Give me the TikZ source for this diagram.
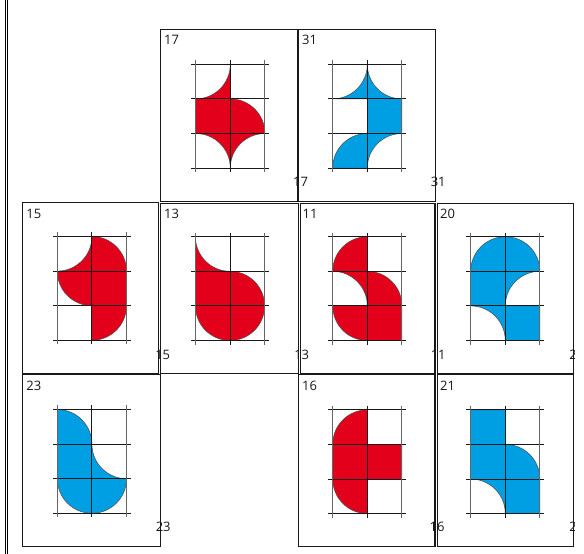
\documentclass[tikz,border=0pt]{standalone}
\usepackage{fontspec}
\setmainfont{Open Sans}
\definecolor{myred}{RGB}{226,0,26}
\definecolor{myblue}{RGB}{0,159,227}
\tikzset{
  boxframe/.style={draw=black!90, line width=1.25pt},
  lbl/.style={inner sep=0pt, anchor=base west, font=\fontsize{13}{15}\selectfont, text=black!90},
  redshape/.style={fill=myred, draw=black!70, line width=0.5pt},
  blueshape/.style={fill=myblue, draw=black!70, line width=0.5pt},
  gridh/.style={draw=black!90, line width=0.9pt},
  gridv/.style={draw=black!60, line width=0.9pt},
  myunits/.style={x=34.6pt, y=-34.6pt}
}
\def\R{34.6pt}
\newcommand\mygridlines{%
  \foreach \j in {0,...,3} {\draw[gridh] (-0.13,\j) -- (2.13,\j);}
  \draw[gridv] (0,-0.12) -- (0,3.12);
  \draw[gridh] (1,-0.12) -- (1,3.12);
  \draw[gridv] (2,-0.12) -- (2,3.12);
}
\begin{document}
\begin{tikzpicture}[x=1pt, y=-1pt]
\useasboundingbox (0,0) rectangle (584,554);
\fill[white] (0,0) rectangle (584,554);
\begin{scope}
\clip (0,0) rectangle (574.6,554);

% left double rule
\draw[line width=0.9pt] (5,0) -- (5,554);
\draw[line width=0.9pt] (7.4,0) -- (7.4,554);

% ---------- shapes ----------
% 17
\begin{scope}[shift={(195.7,64.3)}, myunits]
\path[redshape] (1,0) -- (1,1) arc[start angle=90,end angle=0,radius=\R]
  arc[start angle=90,end angle=180,radius=\R]
  arc[start angle=0,end angle=90,radius=\R] -- (0,1)
  arc[start angle=-90,end angle=0,radius=\R] -- cycle;
\mygridlines
\end{scope}
% 31
\begin{scope}[shift={(332.7,64.3)}, myunits]
\path[blueshape] (0,1) arc[start angle=-90,end angle=0,radius=\R]
  arc[start angle=180,end angle=270,radius=\R] -- (2,2)
  arc[start angle=90,end angle=180,radius=\R] -- (0,3)
  arc[start angle=180,end angle=90,radius=\R] -- (1,1) -- cycle;
\mygridlines
\end{scope}
% 15
\begin{scope}[shift={(57.3,236.5)}, myunits]
\path[redshape] (1,0) arc[start angle=90,end angle=0,radius=\R] -- (2,2)
  arc[start angle=0,end angle=-90,radius=\R] -- (1,2)
  arc[start angle=270,end angle=180,radius=\R]
  arc[start angle=-90,end angle=0,radius=\R] -- cycle;
\mygridlines
\end{scope}
% 13
\begin{scope}[shift={(195.4,236.7)}, myunits]
\path[redshape] (0,0) arc[start angle=180,end angle=270,radius=\R]
  arc[start angle=90,end angle=-180,radius=\R] -- cycle;
\mygridlines
\end{scope}
% 11
\begin{scope}[shift={(332.7,236.7)}, myunits]
\path[redshape] (0,1) arc[start angle=180,end angle=90,radius=\R] -- (1,1)
  arc[start angle=90,end angle=0,radius=\R] -- (2,3) -- (1,3)
  arc[start angle=270,end angle=180,radius=\R] -- (1,2)
  arc[start angle=0,end angle=90,radius=\R] -- cycle;
\mygridlines
\end{scope}
% 20
\begin{scope}[shift={(470.7,236.7)}, myunits]
\path[blueshape] (0,1) arc[start angle=180,end angle=0,radius=\R]
  arc[start angle=90,end angle=180,radius=\R] -- (2,2) -- (2,3) -- (1,3)
  arc[start angle=0,end angle=90,radius=\R] -- cycle;
\mygridlines
\end{scope}
% 23
\begin{scope}[shift={(57.3,409.5)}, myunits]
\path[blueshape] (0,0) arc[start angle=90,end angle=0,radius=\R]
  arc[start angle=180,end angle=270,radius=\R]
  arc[start angle=0,end angle=-180,radius=\R] -- cycle;
\mygridlines
\end{scope}
% 16
\begin{scope}[shift={(332.7,409.8)}, myunits]
\path[redshape] (1,0) -- (1,1) -- (2,1) -- (2,2) -- (1,2) -- (1,3)
  arc[start angle=270,end angle=180,radius=\R] -- (0,1)
  arc[start angle=180,end angle=90,radius=\R] -- cycle;
\mygridlines
\end{scope}
% 21
\begin{scope}[shift={(470.7,409.8)}, myunits]
\path[blueshape] (0,0) -- (1,0) -- (1,1) arc[start angle=90,end angle=0,radius=\R]
  -- (2,3) -- (1,3) arc[start angle=0,end angle=90,radius=\R] -- cycle;
\mygridlines
\end{scope}

% ---------- labels ----------
% row 0
\node[lbl] (t17) at (164.0,44.5) {17};
\node[lbl] (b17) at (293.0,186.6) {17};
\node[lbl] (t31) at (302.0,44.5) {31};
\node[lbl] (b31) at (430.6,186.6) {31};
% row 1
\node[lbl] (t15) at (26.2,218.2) {15};
\node[lbl] (b15) at (155.1,359.3) {15};
\node[lbl] (t13) at (164.0,218.2) {13};
\node[lbl] (b13) at (294.1,359.3) {13};
\node[lbl] (t11) at (302.4,218.2) {11};
\node[lbl] (b11) at (430.6,359.3) {11};
\node[lbl] (t20) at (440.0,218.2) {20};
\node[lbl] (b20) at (569.1,359.3) {20};
% row 2
\node[lbl] (t23) at (26.2,390.8) {23};
\node[lbl] (b23) at (155.6,531.5) {23};
\node[lbl] (t16) at (302.0,390.8) {16};
\node[lbl] (b16) at (429.4,531.5) {16};
\node[lbl] (t21) at (440.0,390.8) {21};
\node[lbl] (b21) at (569.1,531.5) {21};

% ---------- frames ----------
\draw[boxframe] (160.7,29.7) rectangle (298.0,201.2);
\draw[boxframe] (298.5,29.7) rectangle (435.7,201.2);
\draw[boxframe] (22.3,202.7) rectangle (158.5,373.4);
\draw[boxframe] (160.7,203.2) rectangle (298.3,373.4);
\draw[boxframe] (300.5,203.2) rectangle (435.0,373.4);
\draw[boxframe] (437.3,203.2) rectangle (573.6,373.4);
\draw[boxframe] (22.3,374.6) rectangle (160.7,546.7);
\draw[boxframe] (298.3,374.6) rectangle (435.0,546.7);
\draw[boxframe] (437.3,374.6) rectangle (573.6,546.7);
\end{scope}
\end{tikzpicture}
\end{document}
